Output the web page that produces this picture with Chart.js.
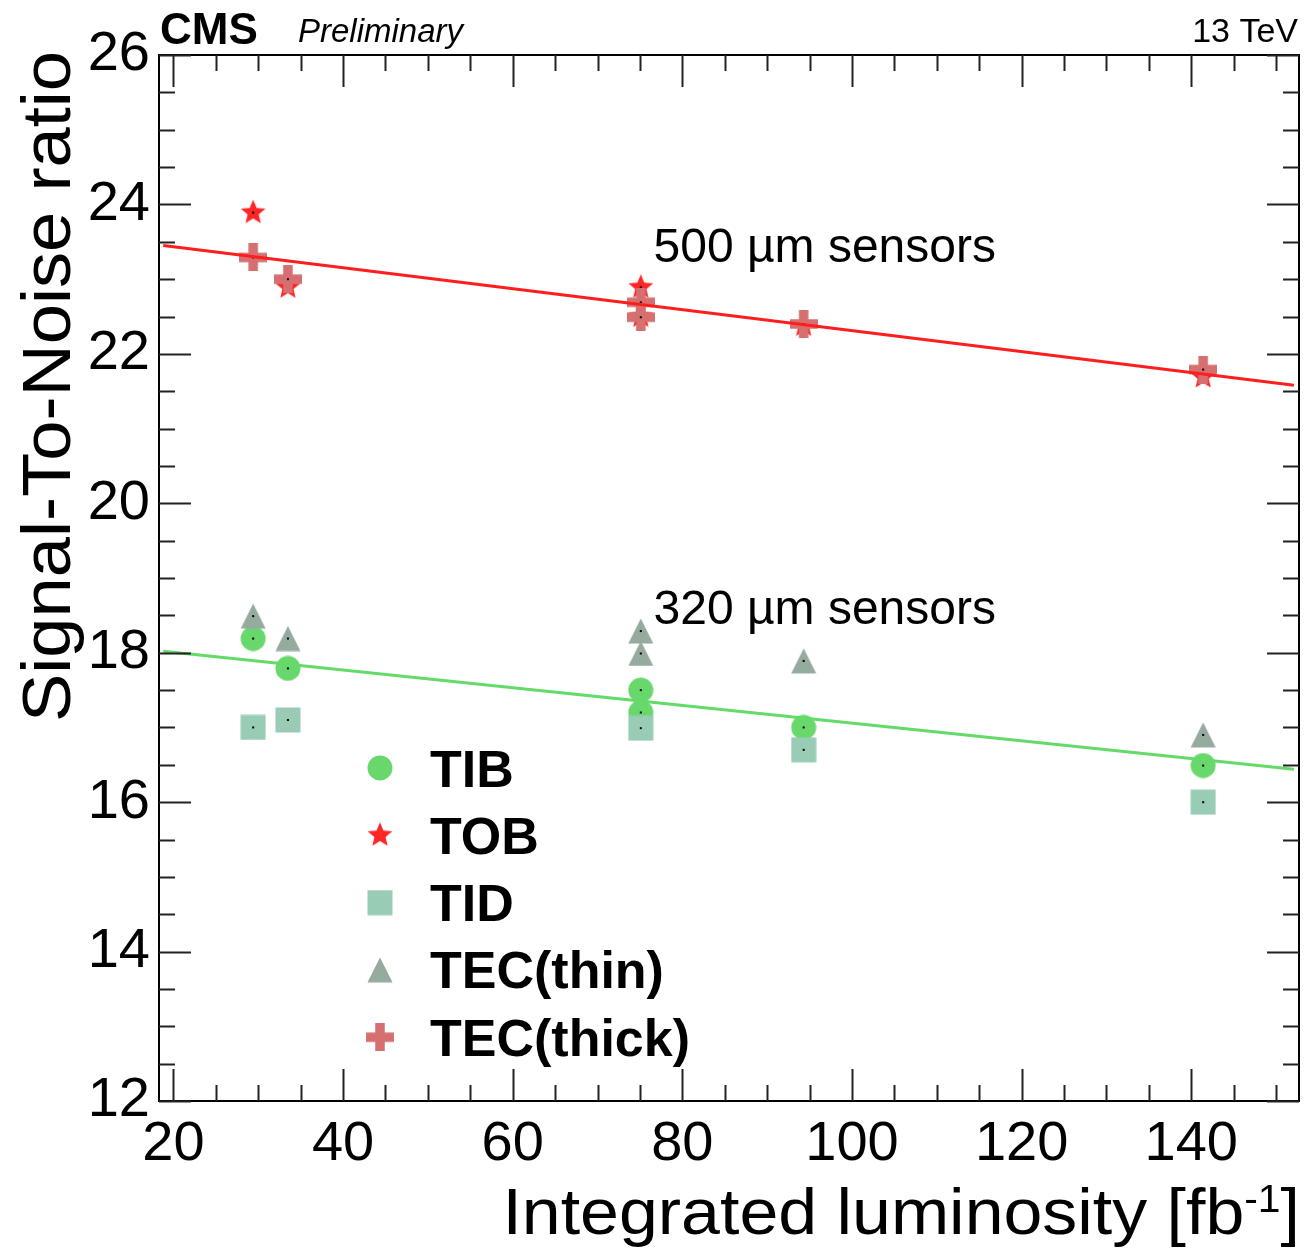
<!DOCTYPE html>
<html>
<head>
<meta charset="utf-8">
<script src="https://cdn.jsdelivr.net/npm/chart.js@4.4.0/dist/chart.umd.min.js"></script>
<style>body{margin:0;background:#fff}</style>
</head>
<body>
<canvas id="snr" width="1304" height="1250"></canvas>
<script>
const FONT = '"Liberation Sans", Arial, Helvetica, sans-serif';

// integrated luminosity [fb^-1] and S/N per partition
const tibX = [29.4, 33.5, 75.1, 75.1, 94.3, 141.4];
const tibY = [18.19, 17.79, 17.50, 17.20, 17.00, 16.49];
const tobX = [29.4, 33.5, 75.1, 75.1, 94.3, 141.4];
const tobY = [23.89, 22.89, 22.89, 22.50, 22.38, 21.69];
const tidX = [29.4, 33.5, 75.1, 94.3, 141.4];
const tidY = [17.00, 17.10, 16.99, 16.70, 16.00];
const thinX = [29.4, 33.5, 75.1, 75.1, 94.3, 141.4];
const thinY = [18.49, 18.19, 18.29, 17.99, 17.89, 16.90];
const thickX = [29.4, 33.5, 75.1, 75.1, 94.3, 141.4];
const thickY = [23.29, 23.00, 22.69, 22.49, 22.40, 21.79];

// linear fits (end points)
const fitX = [18.8, 152.1];
const fit500Y = [23.45, 21.58];
const fit320Y = [18.02, 16.44];

const xTicks = [20, 40, 60, 80, 100, 120, 140];
const yTicks = [12, 14, 16, 18, 20, 22, 24, 26];

const pts = (xs, ys) => xs.map((x, i) => ({ x: x, y: ys[i] }));

function marker(shape, color, size, dot) {
  const c = document.createElement('canvas');
  c.width = c.height = size;
  const g = c.getContext('2d');
  const h = size / 2;
  g.fillStyle = color;
  g.beginPath();
  if (shape === 'circle') {
    g.arc(h, h, h - 0.5, 0, Math.PI * 2);
  } else if (shape === 'square') {
    g.rect(0.5, 0.5, size - 1, size - 1);
  } else if (shape === 'triangle') {
    g.moveTo(h, 0.5); g.lineTo(size - 0.5, size - 0.5); g.lineTo(0.5, size - 0.5);
  } else if (shape === 'star') {
    for (let i = 0; i < 10; i++) {
      const r = i % 2 ? h * 0.45 : h;
      const a = -Math.PI / 2 + i * Math.PI / 5;
      g.lineTo(h + r * Math.cos(a), h + r * Math.sin(a));
    }
  } else if (shape === 'plus') {
    const t = size * 0.34;
    g.rect((size - t) / 2, 0, t, size);
    g.rect(0, (size - t) / 2, size, t);
  }
  g.closePath();
  g.fill();
  if (dot) {
    g.fillStyle = '#000';
    g.fillRect(h - 1, h - 1, 2, 2);
  }
  return c;
}

const series = [
  { label: 'TIB', xs: tibX, ys: tibY, shape: 'circle', color: 'rgb(104,216,108)', size: 26, order: 5 },
  { label: 'TOB', xs: tobX, ys: tobY, shape: 'star', color: 'rgb(255,38,38)', size: 26, order: 4 },
  { label: 'TID', xs: tidX, ys: tidY, shape: 'square', color: 'rgb(152,204,180)', size: 26, order: 3 },
  { label: 'TEC(thin)', xs: thinX, ys: thinY, shape: 'triangle', color: 'rgb(148,171,157)', size: 26, order: 2 },
  { label: 'TEC(thick)', xs: thickX, ys: thickY, shape: 'plus', color: 'rgb(214,112,112)', size: 28, order: 1 }
];

const datasets = series.map(s => ({
  label: s.label,
  data: pts(s.xs, s.ys),
  pointStyle: marker(s.shape, s.color, s.size, true),
  order: s.order
}));
datasets.push({
  label: 'fit500', data: pts(fitX, fit500Y), showLine: true, pointRadius: 0,
  borderColor: 'rgb(255,30,30)', borderWidth: 3, order: 0
});
datasets.push({
  label: 'fit320', data: pts(fitX, fit320Y), showLine: true, pointRadius: 0,
  borderColor: 'rgb(100,218,104)', borderWidth: 3, order: 0
});

const decor = {
  id: 'decor',
  afterDraw(chart) {
    const ctx = chart.ctx;
    const a = chart.chartArea;
    const sx = chart.scales.x, sy = chart.scales.y;
    ctx.save();
    // frame
    ctx.strokeStyle = '#000';
    ctx.lineWidth = 2;
    ctx.strokeRect(a.left, a.top, a.right - a.left, a.bottom - a.top);
    // ticks on all four sides, pointing inward
    ctx.strokeStyle = '#222';
    ctx.beginPath();
    for (let v = 20; v <= 150; v += 5) {
      const px = Math.round(sx.getPixelForValue(v)) + 0.5;
      const len = v % 20 === 0 ? 32 : 16;
      ctx.moveTo(px, a.bottom); ctx.lineTo(px, a.bottom - len);
      ctx.moveTo(px, a.top); ctx.lineTo(px, a.top + len);
    }
    for (let v = 12; v <= 26; v += 0.5) {
      const py = Math.round(sy.getPixelForValue(v)) + 0.5;
      const len = v % 2 === 0 ? 32 : 16;
      ctx.moveTo(a.left, py); ctx.lineTo(a.left + len, py);
      ctx.moveTo(a.right, py); ctx.lineTo(a.right - len, py);
    }
    ctx.stroke();

    ctx.fillStyle = '#000';
    ctx.textBaseline = 'alphabetic';
    ctx.textAlign = 'left';
    ctx.font = 'bold 44px ' + FONT;
    ctx.fillText('CMS', 160, 44);
    ctx.font = 'italic 33px ' + FONT;
    ctx.fillText('Preliminary', 298, 42);
    ctx.textAlign = 'right';
    ctx.font = '34px ' + FONT;
    ctx.fillText('13 TeV', 1298, 42);

    // sensor labels
    ctx.textAlign = 'left';
    ctx.font = '48px ' + FONT;
    ctx.fillText('500 \u00b5m sensors', sx.getPixelForValue(76.6), sy.getPixelForValue(23.23));
    ctx.fillText('320 \u00b5m sensors', sx.getPixelForValue(76.6), sy.getPixelForValue(18.38));

    // y title
    ctx.save();
    ctx.translate(70, 51);
    ctx.rotate(-Math.PI / 2);
    ctx.scale(1.063, 1);
    ctx.textAlign = 'right';
    ctx.font = '68px ' + FONT;
    ctx.fillText('Signal-To-Noise ratio', 0, 0);
    ctx.restore();

    // x title with superscript, right aligned
    ctx.save();
    ctx.translate(1300, 1234);
    ctx.scale(1.075, 1);
    ctx.textAlign = 'right';
    ctx.font = '65px ' + FONT;
    ctx.fillText(']', 0, 0);
    const wBr = ctx.measureText(']').width;
    ctx.font = '38px ' + FONT;
    ctx.fillText('-1', -wBr, -22);
    const wSup = ctx.measureText('-1').width;
    ctx.font = '65px ' + FONT;
    ctx.fillText('Integrated luminosity [fb', -wBr - wSup, 0);
    ctx.restore();

    // legend
    ctx.font = 'bold 52px ' + FONT;
    series.forEach((s, i) => {
      const cy = 768 + i * 67.3;
      const m = marker(s.shape, s.color, s.size, false);
      ctx.drawImage(m, 380 - m.width / 2, cy - m.height / 2);
      ctx.fillText(s.label, 430, cy + 18.5);
    });
    ctx.restore();
  }
};

new Chart(document.getElementById('snr'), {
  type: 'scatter',
  data: { datasets: datasets },
  options: {
    responsive: false,
    animation: false,
    events: [],
    layout: { padding: { top: 55, right: 3, left: 0, bottom: 0 } },
    scales: {
      x: {
        type: 'linear', min: 18.3, max: 152.7,
        afterBuildTicks: s => { s.ticks = xTicks.map(v => ({ value: v })); },
        ticks: { includeBounds: false, font: { family: FONT, size: 56 }, color: '#000', padding: 10, maxRotation: 0 },
        grid: { display: false, drawTicks: false },
        border: { display: false },
        afterFit: s => { s.height = 149; }
      },
      y: {
        type: 'linear', min: 12, max: 26,
        afterBuildTicks: s => { s.ticks = yTicks.map(v => ({ value: v })); },
        ticks: { font: { family: FONT, size: 56 }, color: '#000', padding: 9 },
        grid: { display: false, drawTicks: false },
        border: { display: false },
        afterFit: s => { s.width = 159; }
      }
    },
    plugins: { legend: { display: false }, tooltip: { enabled: false } }
  },
  plugins: [decor]
});
</script>
</body>
</html>
